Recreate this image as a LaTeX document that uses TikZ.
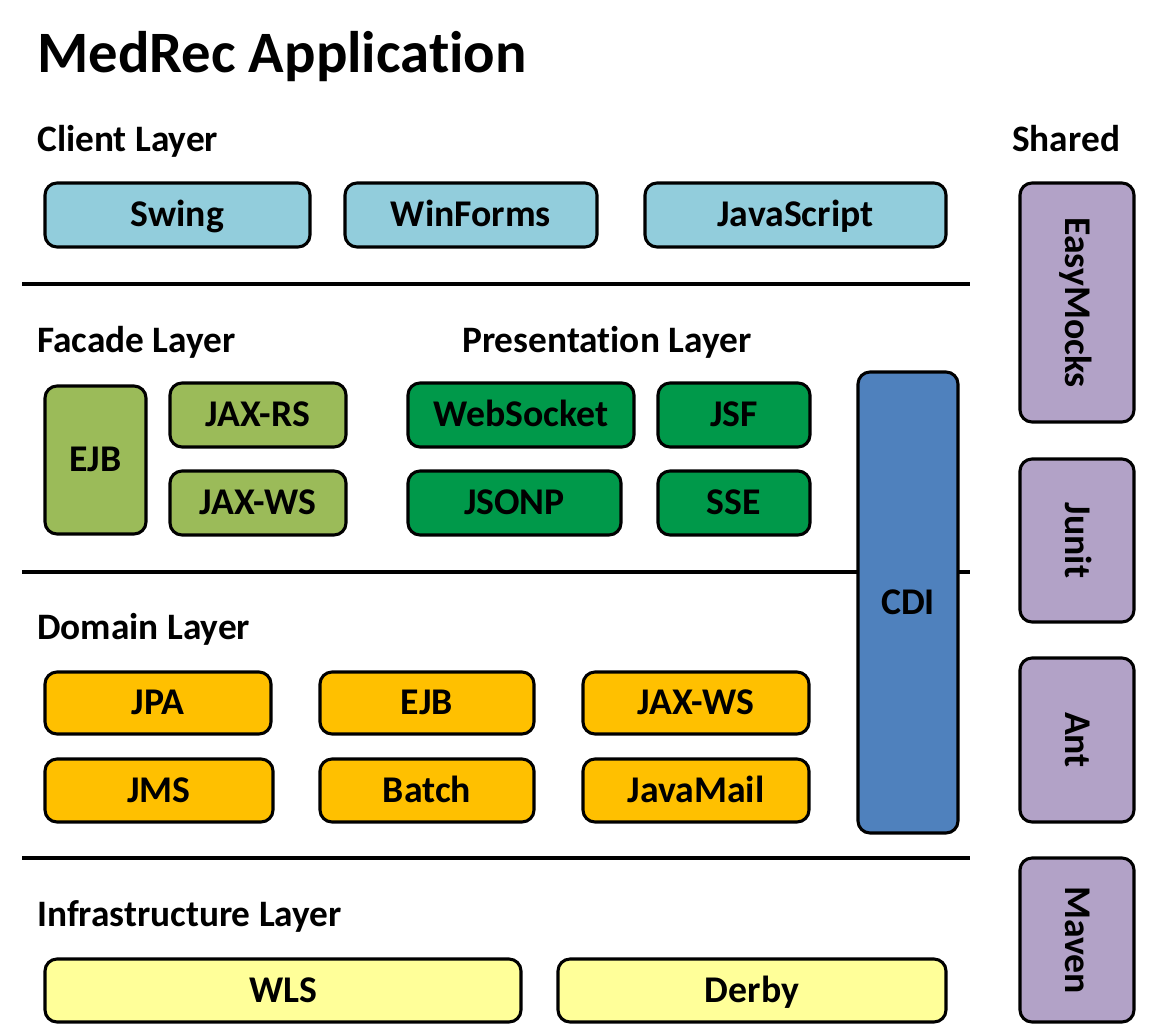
\documentclass[tikz,border=0pt]{standalone}
\usepackage{fontspec}
\setmainfont{Carlito}[Ligatures=NoCommon]
\definecolor{clientc}{HTML}{92CDDC}
\definecolor{facadec}{HTML}{9BBB59}
\definecolor{presc}{HTML}{00994A}
\definecolor{domainc}{HTML}{FFC000}
\definecolor{infrac}{HTML}{FFFF99}
\definecolor{sharedc}{HTML}{B2A2C7}
\definecolor{cdic}{HTML}{4F81BD}
\newcommand{\mybx}[7]{%
  \pgfmathsetmacro\bxcx{(#3+#5)/2}%
  \pgfmathsetmacro\bxcy{(#4+#6)/2}%
  \node[blk, fill=#2, minimum width={(#5-#3)*0.75pt}, minimum height={(#6-#4)*0.75pt}] (#1) at (\bxcx,\bxcy) {#7};}
\begin{document}
\begin{tikzpicture}[x=0.75pt,y=-0.75pt,
  blk/.style={draw=black, line width=2.3pt, rounded corners=9pt, inner sep=0pt,
    font=\fontsize{28.3}{33}\selectfont\bfseries, text height=17.9pt, text depth=0pt},
  vtext/.style={inner sep=0pt, rotate=-90,
    font=\fontsize{28.3}{33}\selectfont\bfseries, text height=17.9pt, text depth=0pt},
  lbl/.style={anchor=base west, inner sep=0pt, font=\fontsize{28}{33}\selectfont\bfseries},
  rule/.style={line width=2.3pt}]
\useasboundingbox (0,0) rectangle (1172,1025);

% title and layer labels
\node[anchor=base west, inner sep=0pt, font=\fontsize{44}{52}\selectfont\bfseries] (title) at (37,72) {MedRec Application};
\node[lbl] (clientL) at (37,151) {Client Layer};
\node[lbl] (sharedL) at (1012,151) {Shared};
\node[lbl] (facadeL) at (37,352) {Facade Layer};
\node[lbl] (presL) at (462,352) {Presentation Layer};
\node[lbl] (domainL) at (37,639) {Domain Layer};
\node[lbl] (infraL) at (37,926) {Infrastructure Layer};

% rules
\coordinate (r1a) at (22,284); \coordinate (r1b) at (970,284);
\coordinate (r2a) at (22,572); \coordinate (r2b) at (970,572);
\coordinate (r3a) at (22,858); \coordinate (r3b) at (970,858);
\draw[rule] (r1a) -- (r1b);
\draw[rule] (r2a) -- (r2b);
\draw[rule] (r3a) -- (r3b);

% client layer
\mybx{swing}{clientc}{45}{183}{310}{247}{Swing}
\mybx{winforms}{clientc}{345}{183}{597}{247}{WinForms}
\mybx{javascript}{clientc}{645}{183}{946}{247}{JavaScript}

% facade layer
\mybx{fejb}{facadec}{45}{386}{146}{534}{EJB}
\mybx{jaxrs}{facadec}{170}{383}{346}{447}{JAX-RS}
\mybx{fjaxws}{facadec}{170}{471}{346}{535}{JAX-WS}

% presentation layer
\mybx{websocket}{presc}{408}{383}{634}{447}{WebSocket}
\mybx{jsf}{presc}{658}{383}{810}{447}{JSF}
\mybx{jsonp}{presc}{408}{471}{621}{535}{JSONP}
\mybx{sse}{presc}{658}{471}{810}{535}{SSE}

% CDI
\mybx{cdi}{cdic}{858}{372}{958}{833}{CDI}

% domain layer
\mybx{jpa}{domainc}{45}{672}{271}{734}{JPA}
\mybx{dejb}{domainc}{320}{672}{534}{734}{EJB}
\mybx{djaxws}{domainc}{583}{672}{809}{734}{JAX-WS}
\mybx{jms}{domainc}{45}{759}{273}{822}{JMS}
\mybx{batch}{domainc}{320}{759}{534}{822}{Batch}
\mybx{javamail}{domainc}{583}{759}{809}{822}{JavaMail}

% infrastructure layer
\mybx{wls}{infrac}{45}{959}{521}{1022}{WLS}
\mybx{derby}{infrac}{558}{959}{946}{1022}{Derby}

% shared
\mybx{easy}{sharedc}{1020}{183}{1134}{422}{}
\mybx{junit}{sharedc}{1020}{459}{1134}{622}{}
\mybx{ant}{sharedc}{1020}{658}{1134}{822}{}
\mybx{maven}{sharedc}{1020}{858}{1134}{1022}{}
\node[vtext] (easyT) at (easy.center) {EasyMocks};
\node[vtext] (junitT) at (junit.center) {Junit};
\node[vtext] (antT) at (ant.center) {Ant};
\node[vtext] (mavenT) at (maven.center) {Maven};
\end{tikzpicture}
\end{document}
